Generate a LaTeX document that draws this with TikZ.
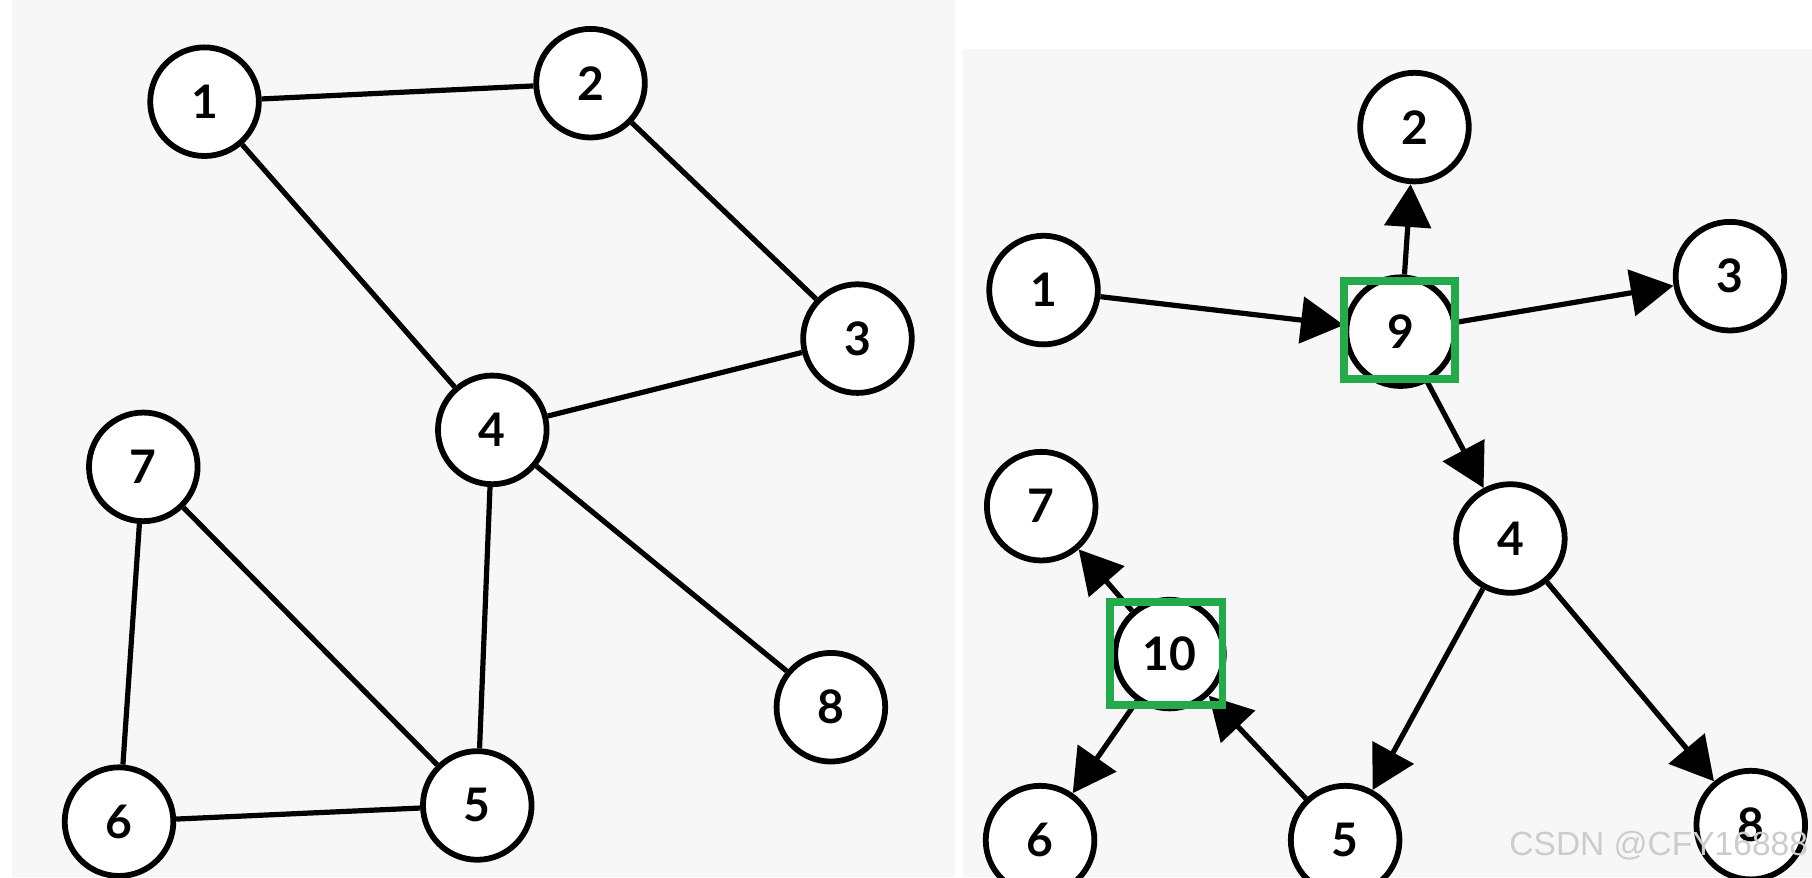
\documentclass[tikz,border=0pt]{standalone}
\usepackage{fontspec}
\setmainfont{Lato}
\newfontfamily\wmfont{Liberation Sans}
\usetikzlibrary{arrows.meta}
\definecolor{panel}{HTML}{F7F7F7}
\definecolor{boxgreen}{RGB}{34,170,75}
\begin{document}
\begin{tikzpicture}[x=1pt,y=-1pt,
  vtx/.style={circle,draw=black,fill=white,line width=5pt,minimum size=94pt,inner sep=0pt,
    font=\fontsize{40}{40}\selectfont\bfseries},
  edge/.style={line width=4.5pt},
  arc/.style={line width=4.5pt,-{Triangle[length=37pt,width=40pt]}},
  hilite/.style={draw=boxgreen,line width=6.5pt}]
\useasboundingbox (0,0) rectangle (1568,759);
\fill[white] (0,0) rectangle (1568,759);
\fill[panel] (10,0) rectangle (826,759);
\fill[panel] (833,42) rectangle (1568,759);

% left graph
\node[vtx] (a1) at (177,88) {1};
\node[vtx] (a2) at (511,72) {2};
\node[vtx] (a3) at (742,293) {3};
\node[vtx] (a4) at (426,372) {4};
\node[vtx] (a7) at (124,404) {7};
\node[vtx] (a8) at (719,612) {8};
\node[vtx] (a6) at (103,711) {6};
\node[vtx] (a5) at (413,697) {5};
\draw[edge] (a1) -- (a2);
\draw[edge] (a1) -- (a4);
\draw[edge] (a2) -- (a3);
\draw[edge] (a3) -- (a4);
\draw[edge] (a4) -- (a5);
\draw[edge] (a4) -- (a8);
\draw[edge] (a7) -- (a6);
\draw[edge] (a7) -- (a5);
\draw[edge] (a6) -- (a5);

% right graph
\node[vtx] (b2) at (1224,110) {2};
\node[vtx] (b1) at (903,251) {1};
\node[vtx] (b9) at (1212,287) {9};
\node[vtx] (b3) at (1497,239) {3};
\node[vtx] (b7) at (901,438) {7};
\node[vtx] (b4) at (1307,466) {4};
\node[vtx] (b10) at (1012,566) {10};
\node[vtx] (b6) at (900,727) {6};
\node[vtx] (b5) at (1164,727) {5};
\node[vtx] (b8) at (1515,714) {8};
\draw[arc] (b1) -- (b9);
\draw[arc] (b9) -- (b2);
\draw[arc] (b9) -- (b3);
\draw[arc] (b9) -- (b4);
\draw[arc] (b4) -- (b5);
\draw[arc] (b4) -- (b8);
\draw[arc] (b5) -- (b10);
\draw[arc] (b10) -- (b7);
\draw[arc] (b10) -- (b6);

\draw[hilite] (1163,243) rectangle (1259,328);
\draw[hilite] (960.5,521) rectangle (1058,610);

\node[anchor=base west,inner sep=0pt,font=\wmfont\fontsize{29}{29}\selectfont,text=gray!40] (wm) at (1306,740) {CSDN @CFY16888};
\end{tikzpicture}
\end{document}
